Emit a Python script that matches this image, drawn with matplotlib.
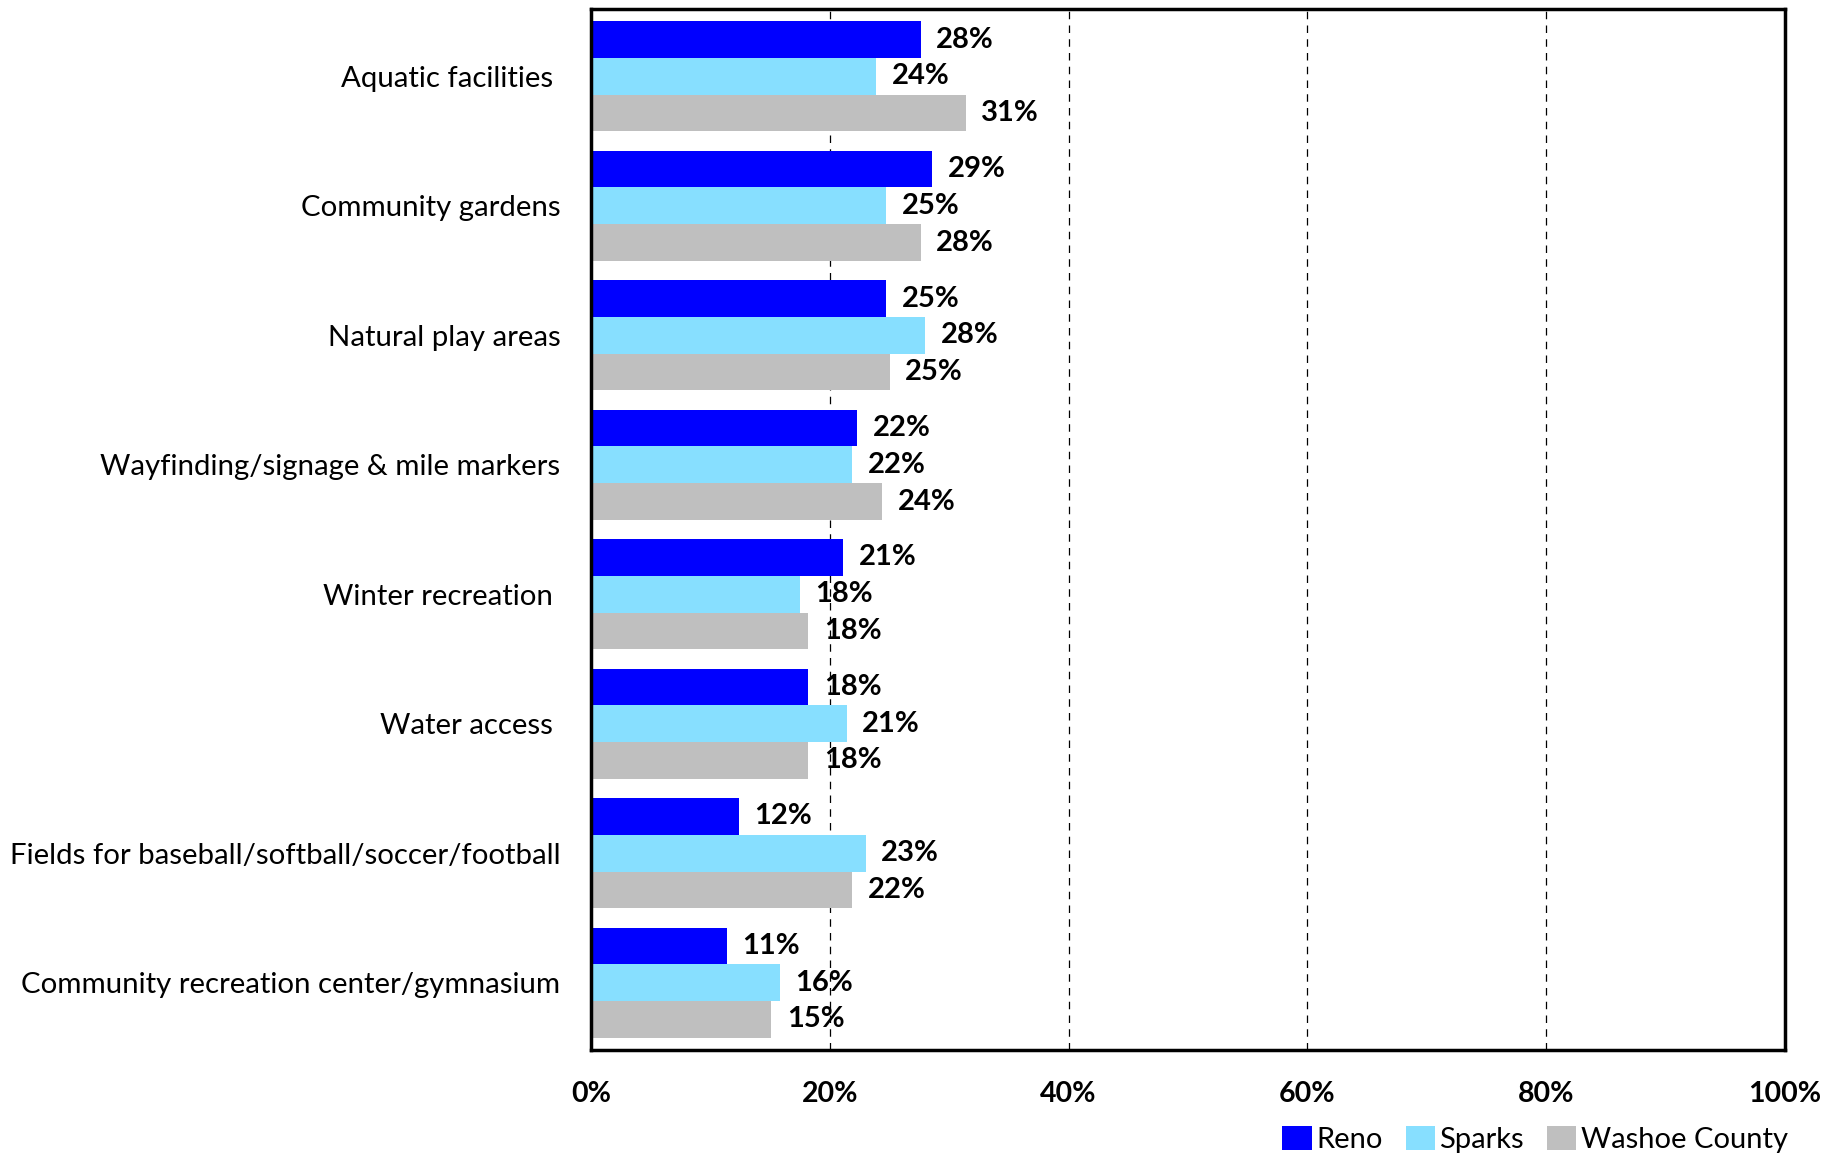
import matplotlib.pyplot as plt
import numpy as np

categories = ['Aquatic facilities ', 'Community gardens', 'Natural play areas',
              'Wayfinding/signage & mile markers', 'Winter recreation ',
              'Water access ', 'Fields for baseball/softball/soccer/football',
              'Community recreation center/gymnasium']
reno = [27.6, 28.6, 24.7, 22.3, 21.1, 18.2, 12.4, 11.4]
sparks = [23.9, 24.7, 28.0, 21.9, 17.5, 21.4, 23.0, 15.8]
washoe = [31.4, 27.6, 25.0, 24.4, 18.2, 18.2, 21.9, 15.1]
series = [('Reno', reno, '#0000FF'), ('Sparks', sparks, '#87DFFF'),
          ('Washoe County', washoe, '#BFBFBF')]

plt.rcParams['font.family'] = ['Lato', 'DejaVu Sans']

fig = plt.figure(figsize=(18.43, 11.57), dpi=100)
ax = fig.add_axes([591 / 1843, 1 - 1050 / 1157, (1785 - 591) / 1843, (1050 - 9) / 1157])

y = np.arange(len(categories))
h = 0.284
for i, (name, vals, col) in enumerate(series):
    pos = y + (i - 1) * h
    ax.barh(pos, vals, height=h, color=col, label=name, zorder=2)
    for p, v in zip(pos, vals):
        ax.text(v + 1.3, p, f'{round(v):.0f}%', va='center', ha='left',
                fontsize=21, fontweight='bold', zorder=3)

ax.set_xlim(0, 100)
ax.set_ylim(len(categories) - 0.5 + 0.02, -0.5 - 0.02)
ax.set_yticks(y)
ax.set_yticklabels(categories, fontsize=21.2)
ax.set_xticks(range(0, 101, 20))
ax.set_xticklabels([f'{t}%' for t in range(0, 101, 20)], fontsize=20.5, fontweight='bold')
ax.tick_params(axis='both', length=0)
ax.tick_params(axis='x', pad=22)
ax.tick_params(axis='y', pad=22)
ax.grid(axis='x', linestyle=(0, (6, 5)), color='black', linewidth=0.9, zorder=0)
for s in ax.spines.values():
    s.set_linewidth(2.5)

ax.legend(loc='upper right', bbox_to_anchor=(1.012, -0.062), ncol=3, frameon=False,
          fontsize=21, handlelength=1.0, handleheight=0.9, handletextpad=0.15,
          columnspacing=0.8, borderaxespad=0)

plt.savefig('out.png', dpi=100)
